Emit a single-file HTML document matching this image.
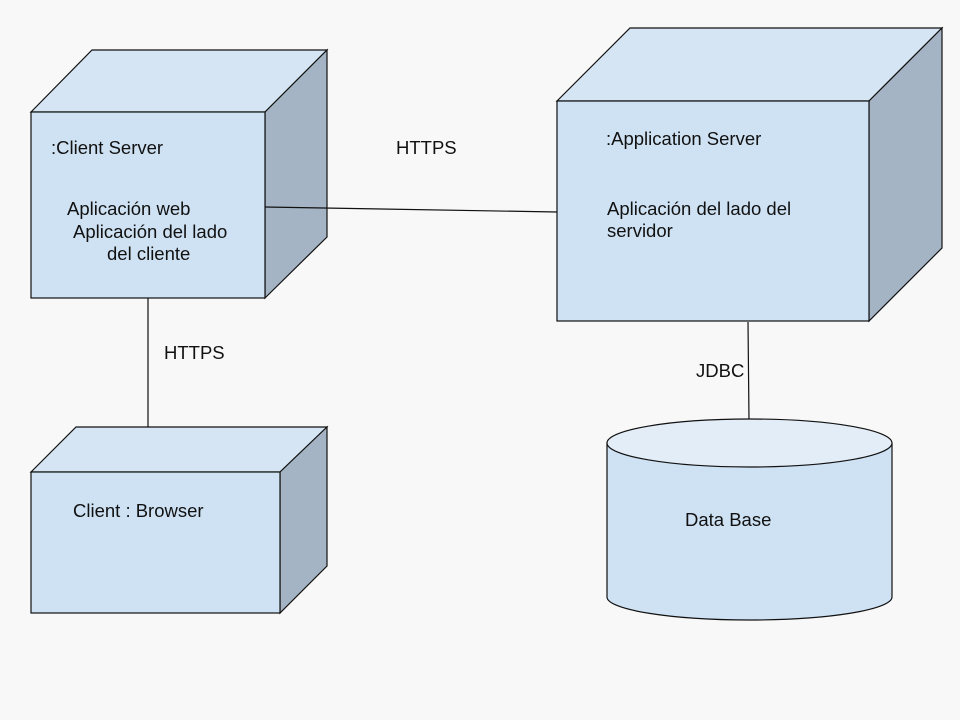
<!DOCTYPE html>
<html><head><style>body{margin:0;background:#f8f8f8}svg{display:block}text{font-family:"Liberation Sans",Arial,sans-serif;font-size:18.5px;fill:#111}</style></head><body>
<svg width="960" height="720" viewBox="0 0 960 720">
<rect width="960" height="720" fill="#f8f8f8"/>
<g stroke="#111" stroke-width="1.2">
<line x1="148" y1="298" x2="148" y2="428"/>
<line x1="748" y1="322" x2="749" y2="420"/>
<!-- cube 1 -->
<polygon points="31,112 92,50 327,50 265,112" fill="#d6e5f4"/>
<polygon points="265,112 327,50 327,237 265,298" fill="#a4b4c4"/>
<rect x="31" y="112" width="234" height="186" fill="#cfe2f3"/>
<!-- cube 2 -->
<polygon points="31,472 76,427 327,427 280,472" fill="#d6e5f4"/>
<polygon points="280,472 327,427 327,566 280,613" fill="#a4b4c4"/>
<rect x="31" y="472" width="249" height="141" fill="#cfe2f3"/>
<!-- cube 3 -->
<polygon points="557,101 630,28 942,28 869,101" fill="#d6e5f4"/>
<polygon points="869,101 942,28 942,248 869,321" fill="#a4b4c4"/>
<rect x="557" y="101" width="312" height="220" fill="#cfe2f3"/>
<!-- cylinder -->
<path d="M607,443 L607,597 A142.5,23 0 0 0 892,597 L892,443" fill="#cfe2f3"/>
<ellipse cx="749.5" cy="443" rx="142.5" ry="24" fill="#e2edf8"/>
<line x1="265" y1="207" x2="557" y2="212"/>
</g>
<text x="51" y="154">:Client Server</text>
<text x="67" y="215">Aplicación web</text>
<text x="73" y="238">Aplicación del lado</text>
<text x="107" y="260">del cliente</text>
<text x="396" y="154">HTTPS</text>
<text x="164" y="359">HTTPS</text>
<text x="73" y="517">Client : Browser</text>
<text x="606" y="145">:Application Server</text>
<text x="607" y="215">Aplicación del lado del</text>
<text x="607" y="237">servidor</text>
<text x="696" y="377">JDBC</text>
<text x="685" y="526">Data Base</text>
</svg>
</body></html>
